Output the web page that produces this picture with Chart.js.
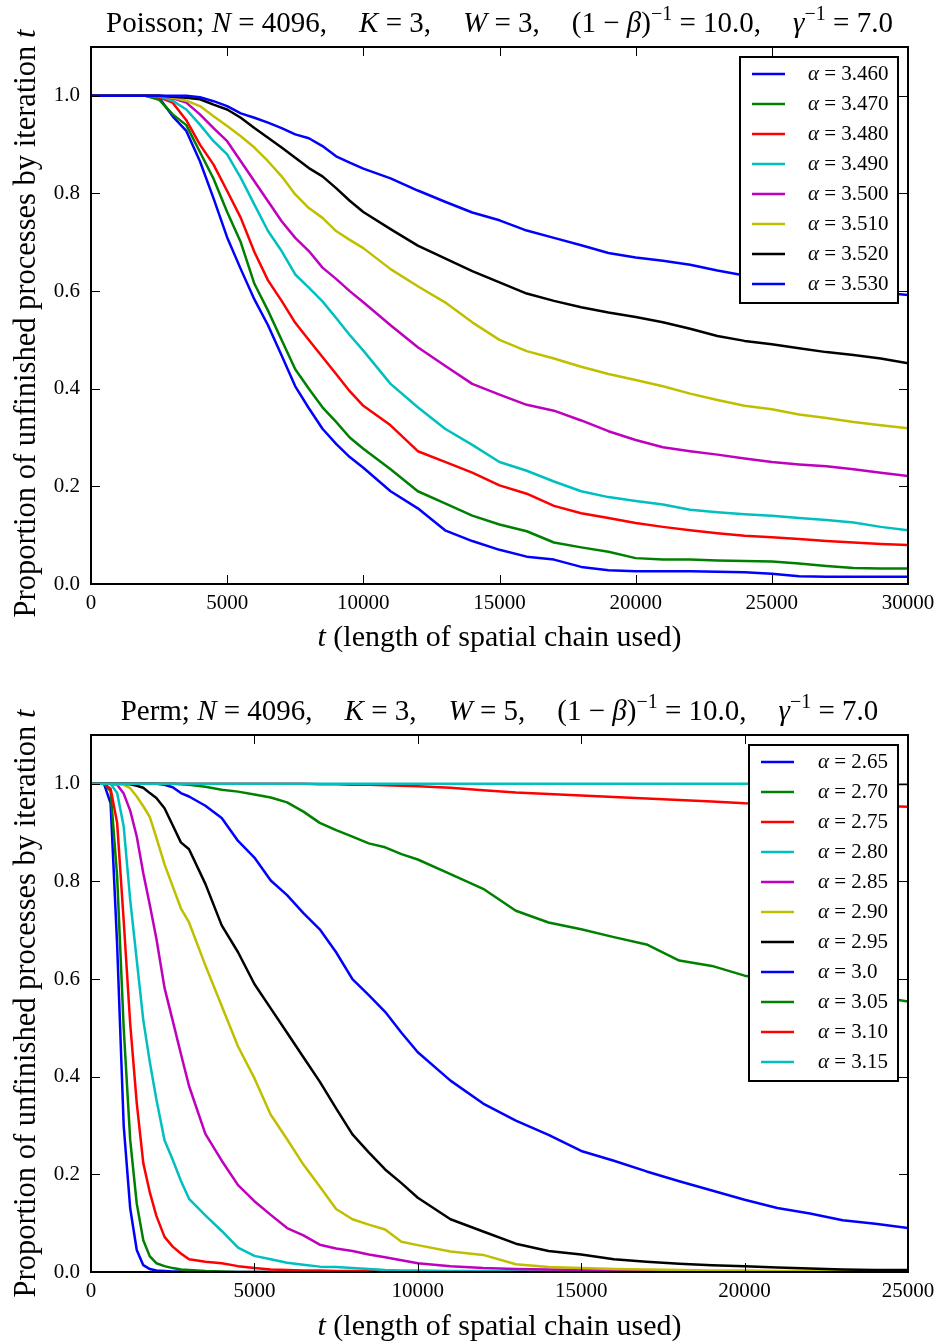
<!DOCTYPE html>
<html>
<head>
<meta charset="utf-8">
<script src="https://cdn.jsdelivr.net/npm/chart.js@4.4.0/dist/chart.umd.min.js"></script>
<style>
html, body { margin: 0; padding: 0; background: #fff; }
#wrap { position: relative; width: 936px; height: 1343px; }
canvas { position: absolute; left: 0; }
</style>
</head>
<body>
<div id="wrap">
<canvas id="c1" width="936" height="670" style="top:0"></canvas>
<canvas id="c2" width="936" height="673" style="top:670px"></canvas>
</div>
<script>
// ---- top panel (Poisson), t = length of spatial chain used
const tPoisson = [0, 1000, 2000, 2500, 3000, 3500, 4000, 4500, 5000, 5500, 6000, 6500, 7000, 7500, 8000, 8500, 9000, 9500, 10000,
  11000, 12000, 13000, 14000, 15000, 16000, 17000, 18000, 19000, 20000, 21000, 22000, 23000, 24000, 25000, 26000, 27000, 28000, 29000, 30000];
const alphaPoisson = ['3.460', '3.470', '3.480', '3.490', '3.500', '3.510', '3.520', '3.530'];
const p3460 = [1, 1, 1, 0.996, 0.958, 0.928, 0.866, 0.79, 0.71, 0.645, 0.583, 0.53, 0.468, 0.405, 0.36, 0.318, 0.287, 0.26, 0.238,
  0.19, 0.155, 0.11, 0.088, 0.07, 0.056, 0.05, 0.035, 0.028, 0.026, 0.026, 0.026, 0.025, 0.024, 0.021, 0.016, 0.015, 0.015, 0.015, 0.015];
const p3470 = [1, 1, 1, 0.992, 0.962, 0.94, 0.885, 0.83, 0.762, 0.7, 0.615, 0.56, 0.5, 0.44, 0.4, 0.362, 0.332, 0.3, 0.277,
  0.235, 0.19, 0.165, 0.14, 0.122, 0.108, 0.085, 0.075, 0.066, 0.053, 0.05, 0.05, 0.048, 0.047, 0.046, 0.042, 0.037, 0.033, 0.032, 0.032];
const p3480 = [1, 1, 1, 0.997, 0.986, 0.95, 0.9, 0.859, 0.805, 0.75, 0.68, 0.622, 0.58, 0.535, 0.5, 0.465, 0.43, 0.395, 0.365,
  0.325, 0.272, 0.25, 0.228, 0.202, 0.185, 0.16, 0.145, 0.135, 0.125, 0.117, 0.11, 0.104, 0.099, 0.096, 0.092, 0.088, 0.085, 0.082, 0.08];
const p3490 = [1, 1, 1, 0.999, 0.99, 0.972, 0.941, 0.907, 0.88, 0.832, 0.777, 0.723, 0.682, 0.634, 0.607, 0.579, 0.545, 0.51, 0.478,
  0.41, 0.362, 0.318, 0.285, 0.25, 0.232, 0.21, 0.19, 0.178, 0.17, 0.163, 0.152, 0.147, 0.143, 0.14, 0.135, 0.131, 0.126, 0.117, 0.11];
const p3500 = [1, 1, 1, 1, 0.995, 0.986, 0.962, 0.934, 0.907, 0.866, 0.825, 0.784, 0.743, 0.709, 0.682, 0.648, 0.625, 0.6, 0.577,
  0.53, 0.485, 0.447, 0.41, 0.388, 0.367, 0.355, 0.335, 0.313, 0.295, 0.28, 0.272, 0.265, 0.257, 0.25, 0.245, 0.241, 0.235, 0.228, 0.221];
const p3510 = [1, 1, 1, 1, 0.996, 0.99, 0.979, 0.958, 0.938, 0.917, 0.894, 0.866, 0.835, 0.798, 0.77, 0.75, 0.723, 0.705, 0.688,
  0.645, 0.61, 0.577, 0.536, 0.5, 0.477, 0.462, 0.445, 0.43, 0.418, 0.405, 0.39, 0.377, 0.365, 0.358, 0.347, 0.34, 0.332, 0.325, 0.319];
const p3520 = [1, 1, 1, 1, 0.998, 0.996, 0.993, 0.982, 0.972, 0.955, 0.934, 0.914, 0.894, 0.873, 0.852, 0.835, 0.811, 0.785, 0.762,
  0.727, 0.693, 0.667, 0.641, 0.618, 0.595, 0.58, 0.567, 0.556, 0.547, 0.536, 0.523, 0.508, 0.498, 0.491, 0.483, 0.475, 0.469, 0.462, 0.452];
const p3530 = [1, 1, 1, 1, 1, 1, 0.997, 0.989, 0.979, 0.964, 0.955, 0.945, 0.934, 0.921, 0.913, 0.897, 0.876, 0.863, 0.851,
  0.831, 0.806, 0.783, 0.761, 0.745, 0.724, 0.709, 0.694, 0.678, 0.669, 0.662, 0.654, 0.642, 0.632, 0.623, 0.615, 0.609, 0.603, 0.597, 0.592];
const seriesPoisson = [p3460, p3470, p3480, p3490, p3500, p3510, p3520, p3530];
const xTicksPoisson = [0, 5000, 10000, 15000, 20000, 25000, 30000];

// ---- bottom panel (Perm)
const tPerm = [0, 400, 600, 800, 1000, 1200, 1400, 1600, 1800, 2000, 2250, 2500, 2750, 3000, 3500, 4000, 4500, 5000,
  5500, 6000, 6500, 7000, 7500, 8000, 8500, 9000, 9500, 10000, 11000, 12000, 13000, 14000, 15000, 16000, 17000, 18000,
  19000, 20000, 21000, 22000, 23000, 24000, 25000];
const alphaPerm = ['2.65', '2.70', '2.75', '2.80', '2.85', '2.90', '2.95', '3.0', '3.05', '3.10', '3.15'];
const q265 = [1, 1, 0.96, 0.67, 0.3, 0.13, 0.045, 0.014, 0.006, 0.003, 0.002, 0.001, 0.001, 0, 0, 0, 0, 0,
  0, 0, 0, 0, 0, 0, 0, 0, 0, 0, 0, 0, 0, 0, 0, 0, 0, 0, 0, 0, 0, 0, 0, 0, 0];
const q270 = [1, 1, 0.985, 0.81, 0.5, 0.27, 0.14, 0.065, 0.032, 0.018, 0.012, 0.008, 0.005, 0.004, 0.002, 0.001, 0, 0,
  0, 0, 0, 0, 0, 0, 0, 0, 0, 0, 0, 0, 0, 0, 0, 0, 0, 0, 0, 0, 0, 0, 0, 0, 0];
const q275 = [1, 1, 0.99, 0.92, 0.72, 0.508, 0.346, 0.223, 0.163, 0.115, 0.072, 0.052, 0.038, 0.026, 0.021, 0.018, 0.012, 0.008,
  0.005, 0.004, 0.003, 0.003, 0.002, 0.002, 0.002, 0.001, 0.001, 0.001, 0, 0, 0, 0, 0, 0, 0, 0, 0, 0, 0, 0, 0, 0, 0];
const q280 = [1, 1, 1, 0.981, 0.913, 0.762, 0.639, 0.516, 0.43, 0.354, 0.27, 0.23, 0.187, 0.15, 0.116, 0.084, 0.05, 0.033,
  0.026, 0.019, 0.015, 0.011, 0.01, 0.008, 0.006, 0.004, 0.003, 0.003, 0.002, 0.002, 0.001, 0, 0, 0, 0, 0, 0, 0, 0, 0, 0, 0, 0];
const q285 = [1, 1, 1, 0.998, 0.98, 0.945, 0.892, 0.817, 0.752, 0.683, 0.582, 0.515, 0.447, 0.381, 0.283, 0.228, 0.178, 0.145,
  0.117, 0.09, 0.075, 0.056, 0.048, 0.043, 0.036, 0.03, 0.024, 0.018, 0.012, 0.008, 0.006, 0.005, 0.004, 0.003, 0.002, 0.002,
  0.001, 0.001, 0, 0, 0, 0, 0];
const q290 = [1, 1, 1, 0.999, 0.998, 0.991, 0.974, 0.954, 0.932, 0.89, 0.835, 0.79, 0.745, 0.716, 0.628, 0.545, 0.462, 0.397,
  0.322, 0.272, 0.22, 0.175, 0.129, 0.108, 0.097, 0.087, 0.062, 0.055, 0.042, 0.035, 0.016, 0.01, 0.008, 0.006, 0.005, 0.004,
  0.003, 0.003, 0.002, 0.002, 0.002, 0.001, 0.001];
const q295 = [1, 1, 1, 1, 1, 0.999, 0.996, 0.992, 0.981, 0.971, 0.95, 0.915, 0.88, 0.866, 0.795, 0.71, 0.655, 0.59,
  0.54, 0.49, 0.44, 0.39, 0.335, 0.282, 0.245, 0.21, 0.182, 0.152, 0.108, 0.083, 0.058, 0.043, 0.036, 0.026, 0.021, 0.017,
  0.014, 0.012, 0.009, 0.007, 0.005, 0.004, 0.004];
const q300 = [1, 1, 1, 1, 1, 1, 1, 1, 1, 1, 0.998, 0.993, 0.981, 0.974, 0.955, 0.93, 0.883, 0.849,
  0.802, 0.772, 0.735, 0.702, 0.655, 0.6, 0.567, 0.533, 0.49, 0.45, 0.392, 0.345, 0.31, 0.281, 0.248, 0.228, 0.206, 0.186,
  0.167, 0.148, 0.131, 0.12, 0.106, 0.099, 0.09];
const q305 = [1, 1, 1, 1, 1, 1, 1, 1, 1, 1, 1, 1, 0.999, 0.998, 0.994, 0.988, 0.984, 0.978,
  0.972, 0.962, 0.943, 0.92, 0.905, 0.892, 0.878, 0.87, 0.856, 0.845, 0.815, 0.785, 0.74, 0.716, 0.702, 0.686, 0.671, 0.638,
  0.627, 0.607, 0.597, 0.586, 0.576, 0.565, 0.554];
const q310 = [1, 1, 1, 1, 1, 1, 1, 1, 1, 1, 1, 1, 1, 1, 1, 1, 1, 1,
  1, 1, 1, 0.999, 0.999, 0.998, 0.998, 0.997, 0.996, 0.995, 0.992, 0.987, 0.982, 0.979, 0.976, 0.973, 0.97, 0.967,
  0.964, 0.96, 0.958, 0.957, 0.956, 0.955, 0.953];
const q315 = [1, 1, 1, 1, 1, 1, 1, 1, 1, 1, 1, 1, 1, 1, 1, 1, 1, 1,
  1, 1, 1, 1, 1, 1, 1, 1, 1, 1, 1, 1, 1, 1, 1, 1, 1, 1,
  1, 1, 1, 1, 0.999, 0.999, 0.999];
const seriesPerm = [q265, q270, q275, q280, q285, q290, q295, q300, q305, q310, q315];
const xTicksPerm = [0, 5000, 10000, 15000, 20000, 25000];

const yTicks = [0, 0.2, 0.4, 0.6, 0.8, 1.0];

// matplotlib classic colour cycle
const lineColors = ['#0000ff', '#008000', '#ff0000', '#00bfbf', '#bf00bf', '#bfbf00', '#000000'];
const SERIF = '"Liberation Serif", "Times New Roman", serif';

function runFont(kind, size) {
  if (kind === 'i') return 'italic ' + size + 'px ' + SERIF;
  if (kind === 's') return Math.round(size * 0.7) + 'px ' + SERIF;
  return size + 'px ' + SERIF;
}

// draws mixed text runs centred on cx; kinds: n normal, i italic, s superscript, g gap(px)
function drawRuns(ctx, runs, cx, baseline, size) {
  const widths = runs.map(r => {
    if (r[1] === 'g') return r[0];
    ctx.font = runFont(r[1], size);
    return ctx.measureText(r[0]).width;
  });
  const total = widths.reduce((a, b) => a + b, 0);
  let x = cx - total / 2;
  ctx.textAlign = 'left';
  ctx.textBaseline = 'alphabetic';
  runs.forEach((r, i) => {
    if (r[1] !== 'g') {
      ctx.font = runFont(r[1], size);
      ctx.fillText(r[0], x, r[1] === 's' ? baseline - size * 0.42 : baseline);
    }
    x += widths[i];
  });
}

function titleRuns(name, w) {
  const gap = [32, 'g'];
  return [[name + '; ', 'n'], ['N', 'i'], [' = 4096,', 'n'], gap, ['K', 'i'], [' = 3,', 'n'], gap,
    ['W', 'i'], [' = ' + w + ',', 'n'], gap, ['(1 \u2212 ', 'n'], ['\u03b2', 'i'], [')', 'n'], ['\u22121', 's'],
    [' = 10.0,', 'n'], gap, ['\u03b3', 'i'], ['\u22121', 's'], [' = 7.0', 'n']];
}

function decoPlugin(cfg) {
  return {
    id: 'deco',
    afterDraw(chart) {
      const ctx = chart.ctx, a = chart.chartArea;
      const xs = chart.scales.x, ys = chart.scales.y;
      ctx.save();
      ctx.fillStyle = '#000';
      ctx.strokeStyle = '#000';

      // inward ticks on all four sides
      ctx.lineWidth = 1;
      ctx.beginPath();
      cfg.xTicks.forEach(v => {
        const px = Math.round(xs.getPixelForValue(v)) + 0.5;
        ctx.moveTo(px, a.bottom); ctx.lineTo(px, a.bottom - 9);
        ctx.moveTo(px, a.top); ctx.lineTo(px, a.top + 9);
      });
      yTicks.forEach(v => {
        const py = Math.round(ys.getPixelForValue(v)) + 0.5;
        ctx.moveTo(a.left, py); ctx.lineTo(a.left + 9, py);
        ctx.moveTo(a.right, py); ctx.lineTo(a.right - 9, py);
      });
      ctx.stroke();

      // frame
      ctx.lineWidth = 2;
      ctx.strokeRect(a.left, a.top, a.right - a.left, a.bottom - a.top);

      // tick labels
      ctx.font = '21px ' + SERIF;
      ctx.textAlign = 'center';
      ctx.textBaseline = 'alphabetic';
      cfg.xTicks.forEach(v => ctx.fillText(String(v), xs.getPixelForValue(v), a.bottom + 25));
      ctx.textAlign = 'right';
      ctx.textBaseline = 'middle';
      yTicks.forEach(v => ctx.fillText(v.toFixed(1), a.left - 11, ys.getPixelForValue(v)));

      // title and axis labels
      const cx = (a.left + a.right) / 2;
      drawRuns(ctx, cfg.title, cx, cfg.titleY, 29);
      drawRuns(ctx, [['t', 'i'], [' (length of spatial chain used)', 'n']], cx, cfg.xLabelY, 30);
      ctx.save();
      ctx.translate(35, (a.top + a.bottom) / 2 + cfg.yLabelShift);
      ctx.rotate(-Math.PI / 2);
      drawRuns(ctx, [['Proportion of unfinished processes by iteration ', 'n'], ['t', 'i']], 0, 0, 30.5);
      ctx.restore();

      // legend box
      const L = cfg.legend;
      ctx.fillStyle = '#fff';
      ctx.fillRect(L.left, L.top, L.right - L.left, L.bottom - L.top);
      ctx.lineWidth = 2;
      ctx.strokeStyle = '#000';
      ctx.strokeRect(L.left, L.top, L.right - L.left, L.bottom - L.top);
      chart.data.datasets.forEach((ds, i) => {
        const y = L.top + 17 + 30 * i;
        ctx.strokeStyle = ds.borderColor;
        ctx.lineWidth = 2.5;
        ctx.beginPath();
        ctx.moveTo(L.left + 12, y); ctx.lineTo(L.left + 45, y);
        ctx.stroke();
        ctx.fillStyle = '#000';
        ctx.textAlign = 'left';
        ctx.textBaseline = 'middle';
        ctx.font = 'italic 21px ' + SERIF;
        ctx.fillText('\u03b1', L.textX, y);
        const aw = ctx.measureText('\u03b1').width;
        ctx.font = '21px ' + SERIF;
        ctx.fillText(' = ' + cfg.alphas[i], L.textX + aw, y);
      });
      ctx.restore();
    }
  };
}

function makeChart(id, xs, series, alphas, xMax, pad, cfg) {
  const datasets = series.map((ys, i) => ({
    label: '\u03b1 = ' + alphas[i],
    data: xs.map((x, j) => ({ x: x, y: ys[j] })),
    borderColor: lineColors[i % lineColors.length],
    borderWidth: 2.5,
    pointRadius: 0,
    fill: false,
    tension: 0,
    borderJoinStyle: 'round',
    order: -i
  }));
  cfg.alphas = alphas;
  return new Chart(document.getElementById(id), {
    type: 'line',
    data: { datasets: datasets },
    options: {
      responsive: false,
      animation: false,
      layout: { padding: pad },
      plugins: { legend: { display: false }, title: { display: false }, tooltip: { enabled: false } },
      scales: {
        x: { type: 'linear', min: 0, max: xMax, display: false },
        y: { type: 'linear', min: 0, max: 1.1, display: false }
      }
    },
    plugins: [decoPlugin(cfg)]
  });
}

makeChart('c1', tPoisson, seriesPoisson, alphaPoisson, 30000,
  { left: 91, right: 28, top: 47, bottom: 86 },
  { xTicks: xTicksPoisson, title: titleRuns('Poisson', 3), titleY: 32, xLabelY: 646, yLabelShift: 8,
    legend: { left: 740, top: 57, right: 898, bottom: 303, textX: 808 } });

makeChart('c2', tPerm, seriesPerm, alphaPerm, 25000,
  { left: 91, right: 28, top: 65, bottom: 71 },
  { xTicks: xTicksPerm, title: titleRuns('Perm', 5), titleY: 50, xLabelY: 665, yLabelShift: 0,
    legend: { left: 749, top: 75, right: 898, bottom: 411, textX: 818 } });
</script>
</body>
</html>
